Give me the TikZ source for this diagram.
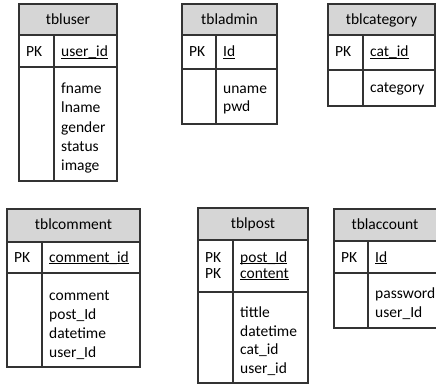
\documentclass[tikz,border=0pt]{standalone}
\usepackage{fontspec}
\setmainfont{Carlito}
% key column text: underlined just below the baseline
\newcommand\keyu[1]{\setbox0\hbox{#1}\rlap{\rule[-2pt]{\wd0}{0.9pt}}\box0}
% table frame: left, top, divider x, right, header bottom, key row bottom, bottom
\newcommand\ertable[7]{%
  \fill[headfill] (#1,#2) rectangle (#4,#5);
  \draw[frame] (#1,#2) rectangle (#4,#7);
  \draw[frame] (#1,#5) -- (#4,#5);
  \draw[frame] (#1,#6) -- (#4,#6);
  \draw[frame] (#3,#5) -- (#3,#7);
}
\begin{document}
\begin{tikzpicture}[x=1pt,y=-1pt,
  frame/.style={draw=black!80, line width=1.2pt},
  headfill/.style={fill=black!16},
  txt/.style={inner sep=0pt, anchor=base west, font=\fontsize{15.5}{19}\selectfont, text=black},
  ttl/.style={inner sep=0pt, anchor=base, font=\fontsize{15.5}{19}\selectfont, text=black}]
\useasboundingbox (0,0) rectangle (436,385);
\clip (0,0) rectangle (436,385);

% tbluser
\ertable{19}{4}{54}{117}{35}{67}{181}
\node[ttl] (user-t) at (68,25) {tbluser};
\node[txt] (user-pk) at (26,57) {PK};
\node[txt] (user-k) at (61,57) {\keyu{user\_id}};
\node[txt] (user-a1) at (61,94) {fname};
\node[txt] (user-a2) at (61,113) {lname};
\node[txt] (user-a3) at (61,132) {gender};
\node[txt] (user-a4) at (61,151) {status};
\node[txt] (user-a5) at (61,170) {image};

% tbladmin
\ertable{182}{4}{216}{277}{35}{69}{124}
\node[ttl] (admin-t) at (229.5,25) {tbladmin};
\node[txt] (admin-pk) at (189,57) {PK};
\node[txt] (admin-k) at (223,57) {\keyu{Id}};
\node[txt] (admin-a1) at (223,94) {uname};
\node[txt] (admin-a2) at (223,112) {pwd};

% tblcategory
\ertable{328}{4}{363}{435}{35}{70}{106}
\node[ttl] (cat-t) at (381.5,25) {tblcategory};
\node[txt] (cat-pk) at (335,57) {PK};
\node[txt] (cat-k) at (370,57) {\keyu{cat\_id}};
\node[txt] (cat-a1) at (370,93) {category};

% tblcomment
\ertable{7}{209}{42}{140}{242}{273}{367}
\node[ttl] (com-t) at (73.5,229) {tblcomment};
\node[txt] (com-pk) at (14,262) {PK};
\node[txt] (com-k) at (49,262) {\keyu{comment\_id}};
\node[txt] (com-a1) at (49,300) {comment};
\node[txt] (com-a2) at (49,319) {post\_Id};
\node[txt] (com-a3) at (49,338) {datetime};
\node[txt] (com-a4) at (49,357) {user\_Id};

% tblpost
\ertable{198}{208}{233}{308}{240}{292}{383}
\node[ttl] (post-t) at (253,228) {tblpost};
\node[txt] (post-pk1) at (205,262) {PK};
\node[txt] (post-pk2) at (205,278) {PK};
\node[txt] (post-k1) at (240,262) {\keyu{post\_Id}};
\node[txt] (post-k2) at (240,278) {\keyu{content}};
\node[txt] (post-a1) at (240,317) {tittle};
\node[txt] (post-a2) at (240,336) {datetime};
\node[txt] (post-a3) at (240,354) {cat\_id};
\node[txt] (post-a4) at (240,373) {user\_id};

% tblaccount
\ertable{334}{209}{368}{445}{241}{273}{328}
\node[ttl] (acc-t) at (385,229) {tblaccount};
\node[txt] (acc-pk) at (341,262) {PK};
\node[txt] (acc-k) at (375,262) {\keyu{Id}};
\node[txt] (acc-a1) at (375,298) {password};
\node[txt] (acc-a2) at (375,317) {user\_Id};
\end{tikzpicture}
\end{document}
